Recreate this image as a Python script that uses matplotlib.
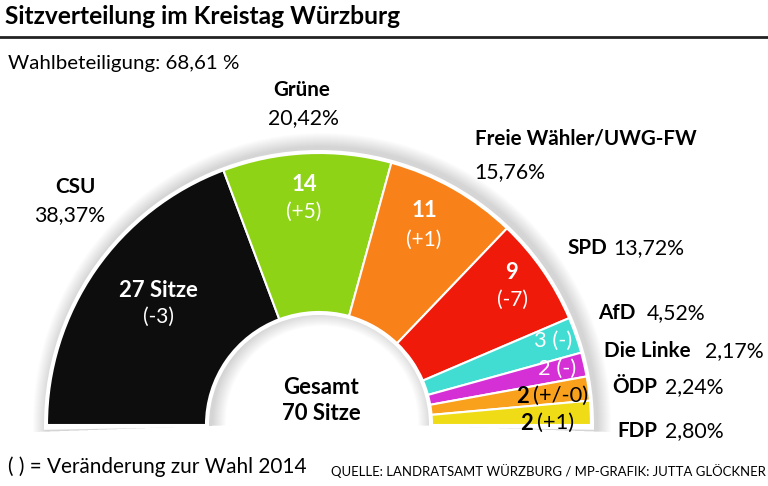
import matplotlib
matplotlib.use("Agg")
import matplotlib.pyplot as plt
from matplotlib.patches import Wedge

plt.rcParams['font.family'] = ['Lato', 'DejaVu Sans']

# data
parties = ['CSU', 'Grüne', 'Freie Wähler/UWG-FW', 'SPD', 'AfD', 'Die Linke', 'ÖDP', 'FDP']
seats = [27, 14, 11, 9, 3, 2, 2, 2]
changes = ['(-3)', '(+5)', '(+1)', '(-7)', '(-)', '(-)', '(+/-0)', '(+1)']
shares = ['38,37%', '20,42%', '15,76%', '13,72%', '4,52%', '2,17%', '2,24%', '2,80%']
colors = ['#0d0d0d', '#8fd316', '#f88219', '#f01a0a', '#41ddd3', '#d52fd6', '#f9a11c', '#efdc17']
total = sum(seats)

fig = plt.figure(figsize=(7.68, 4.86), dpi=100)
ax = fig.add_axes([0, 0, 1, 1])
ax.set_xlim(0, 768)
ax.set_ylim(486, 0)
ax.set_aspect('equal')
ax.axis('off')
renderer = fig.canvas.get_renderer()


def fit_size(s, width, weight='normal'):
    # font size that gives the text the wanted width in pixels
    t = ax.text(0, 0, s, fontsize=20, fontweight=weight)
    w = t.get_window_extent(renderer).width
    t.remove()
    return 20 * width / w


cx, cy = 319, 425
R, r = 272, 113

# soft shadow around the arc
for k in range(14, 0, -1):
    ax.add_patch(Wedge((cx + 3, cy - 3), R + 3 + k, 178, 362, width=R - r + 6 + 2 * k,
                       facecolor='#000000', alpha=0.010, lw=0))
ax.add_patch(Wedge((cx, cy), R + 3, 179, 361, width=R - r + 6, facecolor='white', lw=0))

# seat wedges
start = 180.0
for s, c in zip(seats, colors):
    span = 180.0 * s / total
    ax.add_patch(Wedge((cx, cy), R, start, start + span, width=R - r,
                       facecolor=c, edgecolor='white', lw=1.5))
    start += span

fs_title = fit_size('Sitzverteilung im Kreistag Würzburg', 395, 'bold')
fs_name = fit_size('Freie Wähler/UWG-FW', 222, 'bold')
fs_val = fit_size('13,72%', 71)
fs_in = fit_size('27 Sitze', 79, 'bold')
fs_chg = fit_size('(-3)', 31)
fs_small = fit_size('2 (+/-0)', 73)
fs_note = fit_size('( ) = Veränderung zur Wahl 2014', 300)
fs_src = fit_size('QUELLE: LANDRATSAMT WÜRZBURG / MP-GRAFIK: JUTTA GLÖCKNER', 434)
fs_turn = fit_size('Wahlbeteiligung: 68,61 %', 232)

# title
ax.text(5, 16, 'Sitzverteilung im Kreistag Würzburg', fontsize=fs_title, fontweight='bold',
        ha='left', va='center')
ax.plot([0, 768], [37, 37], color='#222222', lw=2)
ax.text(8, 63, 'Wahlbeteiligung: 68,61 %', fontsize=fs_turn, ha='left', va='center')

# labels inside wedges
inner = [(158, 290, 317, '27 Sitze'), (304, 184, 212, '14'), (424, 210, 240, '11'),
         (512, 272, 300, '9')]
for i, (x, y1, y2, t) in enumerate(inner):
    ax.text(x, y1, t, color='white', fontsize=fs_in, fontweight='bold', ha='center', va='center')
    ax.text(x, y2, changes[i], color='white', fontsize=fs_chg, ha='center', va='center')

ax.text(553, 341, f'{seats[4]} {changes[4]}', color='white', fontsize=fs_small, ha='center', va='center')
ax.text(557, 369, f'{seats[5]} {changes[5]}', color='white', fontsize=fs_small, ha='center', va='center')
ax.text(529, 396, str(seats[6]), fontsize=fs_small, fontweight='bold', ha='right', va='center')
ax.text(533, 396, changes[6], fontsize=fs_small, ha='left', va='center')
ax.text(533, 423, str(seats[7]), fontsize=fs_small, fontweight='bold', ha='right', va='center')
ax.text(537, 423, changes[7], fontsize=fs_small, ha='left', va='center')

# outside labels
ax.text(302, 90, parties[1], fontsize=fs_name, fontweight='bold', ha='center', va='center')
ax.text(303, 118, shares[1], fontsize=fs_val, ha='center', va='center')
ax.text(75, 187, parties[0], fontsize=fs_name, fontweight='bold', ha='center', va='center')
ax.text(70, 215, shares[0], fontsize=fs_val, ha='center', va='center')
ax.text(475, 138, parties[2], fontsize=fs_name, fontweight='bold', ha='left', va='center')
ax.text(474, 172, shares[2], fontsize=fs_val, ha='left', va='center')

side = [(3, 567, 613, 248), (4, 598, 647, 313), (5, 604, 705, 351),
        (6, 612, 665, 387), (7, 617, 665, 431)]
for i, xn, xv, y in side:
    ax.text(xn, y, parties[i], fontsize=fs_name, fontweight='bold', ha='left', va='center')
    ax.text(xv, y, shares[i], fontsize=fs_val, ha='left', va='center')

ax.text(321, 387, 'Gesamt', fontsize=fs_in, fontweight='bold', ha='center', va='center')
ax.text(321, 413, f'{total} Sitze', fontsize=fs_in, fontweight='bold', ha='center', va='center')

ax.text(8, 467, '( ) = Veränderung zur Wahl 2014', fontsize=fs_note, ha='left', va='center')
ax.text(766, 471, 'QUELLE: LANDRATSAMT WÜRZBURG / MP-GRAFIK: JUTTA GLÖCKNER', fontsize=fs_src,
        ha='right', va='center')

fig.savefig('out.png', dpi=100)
